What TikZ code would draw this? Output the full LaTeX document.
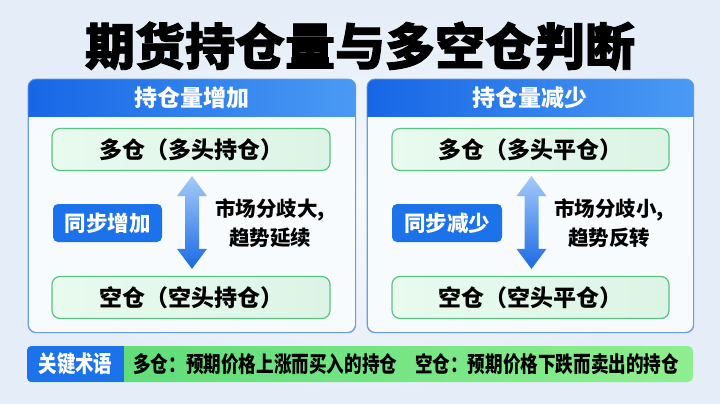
\documentclass[tikz,border=0pt]{standalone}
\usepackage{fontspec}
\setmainfont{Noto Sans CJK SC}
\newfontfamily\titlefont{Noto Sans CJK SC}[BoldFeatures={FakeBold=1.8}]
\newfontfamily\barfont{Noto Sans CJK SC}[FakeStretch=0.8]
\usepackage{tikz}
\usetikzlibrary{positioning, calc}
\definecolor{bgin}{HTML}{F6F9FD}
\definecolor{bgout}{HTML}{E4EDF8}
\definecolor{hdrleft}{HTML}{1766E6}
\definecolor{hdrright}{HTML}{4A9AF4}
\definecolor{panelline}{HTML}{6B9BE0}
\definecolor{panelfill}{HTML}{F8FBFE}
\definecolor{greenline}{HTML}{55C581}
\definecolor{greenleft}{HTML}{E9FAEF}
\definecolor{greenright}{HTML}{DCF4E5}
\definecolor{badgeblue}{HTML}{1C72EA}
\definecolor{arrowtop}{HTML}{A4CBF8}
\definecolor{arrowbot}{HTML}{1A69E4}
\definecolor{barleft}{HTML}{58DA76}
\definecolor{barright}{HTML}{8FEE8F}

% vertical two-headed block arrow between two points
\newcommand{\dblarrow}[2]{%
  \path[top color=arrowtop, bottom color=arrowbot]
    let \p1=(#1), \p2=(#2) in
    (\x1,\y1) -- (\x1+15,\y1-20) -- (\x1+7,\y1-20) -- (\x1+7,\y2+20)
    -- (\x1+15,\y2+20) -- (\x1,\y2) -- (\x1-15,\y2+20) -- (\x1-7,\y2+20)
    -- (\x1-7,\y1-20) -- (\x1-15,\y1-20) -- cycle;}

\begin{document}
\begin{tikzpicture}[
    x=1pt, y=-1pt,
    panel/.style={draw=panelline, line width=0.8pt, fill=panelfill, rounded corners=8,
      minimum width=327, minimum height=253, anchor=north west, inner sep=0},
    hdrtext/.style={text=white, font=\bfseries\fontsize{23}{27}\selectfont},
    posbox/.style={draw=greenline, line width=1.2pt, rounded corners=8,
      left color=greenleft, right color=greenright,
      minimum width=278, minimum height=42, inner sep=0,
      font=\bfseries\fontsize{23}{27}\selectfont},
    badge/.style={fill=badgeblue, rounded corners=5, text=white,
      minimum width=109, minimum height=38, inner sep=0,
      font=\bfseries\fontsize{21.5}{25}\selectfont},
    note/.style={align=center, font=\bfseries\fontsize{20.5}{29}\selectfont},
]
    % Background
    \shade[inner color=bgin, outer color=bgout] (0,0) rectangle (720,404);
    \useasboundingbox (0,0) rectangle (720,404);

    % Title
    \node[font=\titlefont\bfseries\fontsize{50}{60}\selectfont] (title) at (360,46) {期货持仓量与多空仓判断};

    % Left panel: open interest rising
    \node[panel] (panelL) at (28,79) {};
    \begin{scope}
        \clip[rounded corners=8] (panelL.north west) rectangle (panelL.south east);
        \fill[left color=hdrleft, right color=hdrright] (panelL.north west) rectangle ($(panelL.north east)+(0,37)$);
    \end{scope}
    \draw[panelline, line width=0.8pt, rounded corners=8] (panelL.north west) rectangle (panelL.south east);
    \node[hdrtext] (hdrL) at ($(panelL.north)+(0,19)$) {持仓量增加};
    \node[posbox] (longL) at (191,149.5) {多仓（多头持仓）};
    \node[posbox] (shortL) at (191,297.5) {空仓（空头持仓）};
    \node[badge] (syncL) at (107.5,223) {同步增加};
    \node[note] (noteL) at (270,223) {市场分歧大,\\趋势延续};
    \dblarrow{$(longL.south)+(1,5)$}{$(shortL.north)+(1,-7)$}

    % Right panel: open interest falling
    \node[panel, minimum width=326] (panelR) at (367,79) {};
    \begin{scope}
        \clip[rounded corners=8] (panelR.north west) rectangle (panelR.south east);
        \fill[left color=hdrleft, right color=hdrright] (panelR.north west) rectangle ($(panelR.north east)+(0,37)$);
    \end{scope}
    \draw[panelline, line width=0.8pt, rounded corners=8] (panelR.north west) rectangle (panelR.south east);
    \node[hdrtext] (hdrR) at ($(panelR.north)+(0,19)$) {持仓量减少};
    \node[posbox, minimum width=277] (longR) at (530.5,149.5) {多仓（多头平仓）};
    \node[posbox, minimum width=277] (shortR) at (530.5,297.5) {空仓（空头平仓）};
    \node[badge, minimum width=110] (syncR) at (447,223) {同步减少};
    \node[note] (noteR) at (609,223) {市场分歧小,\\趋势反转};
    \dblarrow{$(longR.south)+(1,5)$}{$(shortR.north)+(1,-7)$}

    % Key terms bar
    \node[left color=barleft, right color=barright, rounded corners=5,
          minimum width=666, minimum height=36, inner sep=0] (bar) at (360,364) {};
    \begin{scope}
        \clip[rounded corners=5] (bar.north west) rectangle (bar.south east);
        \fill[badgeblue] (bar.north west) rectangle ($(bar.south west)+(97,0)$);
    \end{scope}
    \node[text=white, font=\barfont\bfseries\fontsize{23}{26}\selectfont] (tag) at (75.5,364) {关键术语};
    \node[anchor=west, inner sep=0, font=\barfont\bfseries\fontsize{22}{26}\selectfont] (terms) at (133,364)
        {多仓：预期价格上涨而买入的持仓\hspace{18pt}空仓：预期价格下跌而卖出的持仓};
\end{tikzpicture}
\end{document}
